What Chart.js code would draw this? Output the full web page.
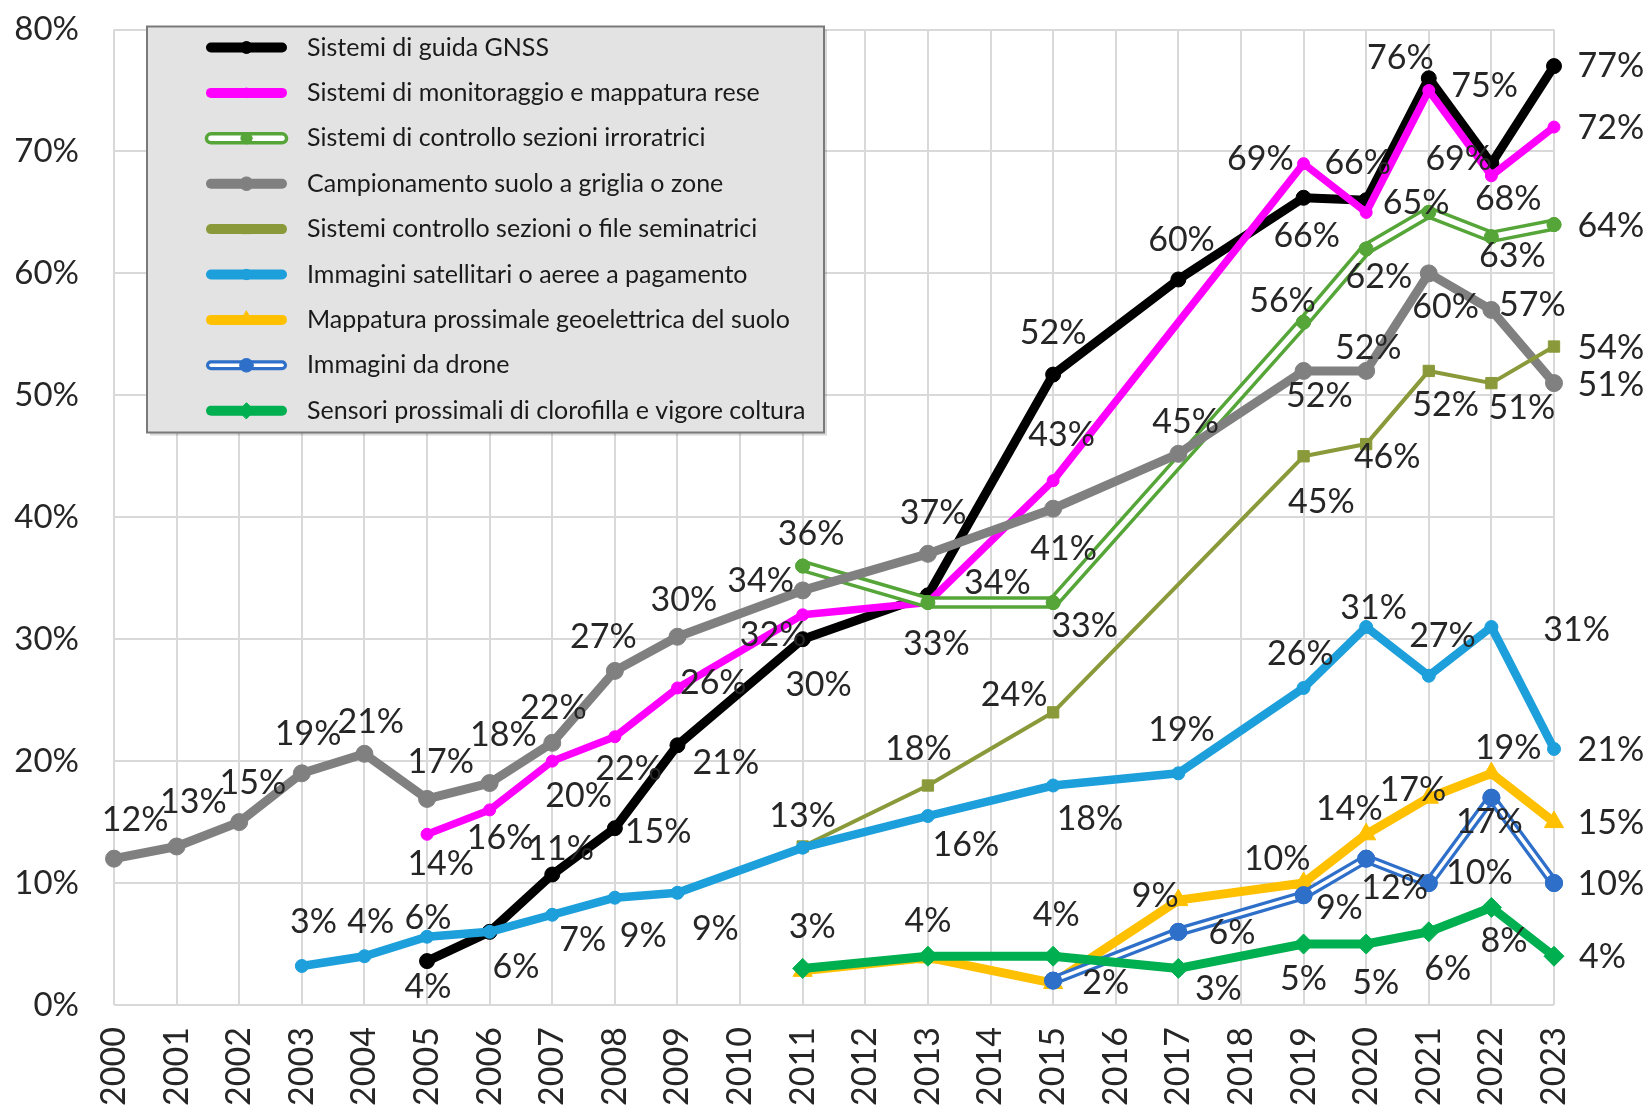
<!DOCTYPE html>
<html>
<head>
<meta charset="utf-8">
<script src="https://cdn.jsdelivr.net/npm/chart.js@4.4.1/dist/chart.umd.min.js"></script>
<style>
  html, body { margin: 0; padding: 0; background: #fff; }
  canvas { display: block; }
</style>
</head>
<body>
<canvas id="chart" width="1651" height="1105"></canvas>
<script>
const years = ['2000', '2001', '2002', '2003', '2004', '2005', '2006', '2007', '2008', '2009', '2010', '2011',
               '2012', '2013', '2014', '2015', '2016', '2017', '2018', '2019', '2020', '2021', '2022', '2023'];

const gnss          = [null, null, null, null, null, 3.6, 6, 10.7, 14.5, 21.3, null, 30, null, 33.6, null, 51.7, null, 59.5, null, 66.2, 66, 76, 69, 77];
const resa          = [null, null, null, null, null, 14, 16, 20, 22, 26, null, 32, null, 33, null, 43, null, null, null, 69, 65, 75, 68, 72];
const irroratrici   = [null, null, null, null, null, null, null, null, null, null, null, 36, null, 33, null, 33, null, null, null, 56, 62, 65, 63, 64];
const campionamento = [12, 13, 15, 19, 20.6, 16.9, 18.2, 21.5, 27.4, 30.2, null, 34, null, 37, null, 40.7, null, 45.2, null, 52, 52, 60, 57, 51];
const seminatrici   = [null, null, null, null, null, null, null, null, null, null, null, 13, null, 18, null, 24, null, null, null, 45, 46, 52, 51, 54];
const satellitari   = [null, null, null, 3.2, 4, 5.6, 6, 7.4, 8.8, 9.2, null, 12.9, null, 15.5, null, 18, null, 19, null, 26, 31, 27, 31, 21];
const geoelettrica  = [null, null, null, null, null, null, null, null, null, null, null, 2.8, null, 3.9, null, 1.8, null, 8.6, null, 10, 14, 17, 19, 15];
const drone         = [null, null, null, null, null, null, null, null, null, null, null, null, null, null, null, 2, null, 6, null, 9, 12, 10, 17, 10];
const sensori       = [null, null, null, null, null, null, null, null, null, null, null, 3, null, 4, null, 4, null, 3, null, 5, 5, 6, 8, 4];

const seriesNames = [
    'Sistemi di guida GNSS',
    'Sistemi di monitoraggio e mappatura rese',
    'Sistemi di controllo sezioni irroratrici',
    'Campionamento suolo a griglia o zone',
    'Sistemi controllo sezioni o file seminatrici',
    'Immagini satellitari o aeree a pagamento',
    'Mappatura prossimale geoelettrica del suolo',
    'Immagini da drone',
    'Sensori prossimali di clorofilla e vigore coltura'
];

// where each value label sits relative to its point (label placement only)
const labelPos = [
    {2005: [1, 25], 2006: [25, 33], 2007: [8, -24], 2008: [41, 4], 2009: [46, 17], 2011: [15, 44], 2013: [66, -12],
     2015: [0, -39], 2017: [3, -37], 2019: [3, 36], 2020: [-8, -35], 2021: [-27, -19], 2022: [-31, -4], 2023: [54, 0]},
    {2005: [13, 28], 2006: [10, 27], 2007: [25, 33], 2008: [13, 31], 2009: [34, -5], 2011: [-28, 19], 2015: [8, -43],
     2019: [-41, -4], 2021: [53, -4], 2022: [16, 22], 2023: [54, 1]},
    {2011: [8, -30], 2013: [8, 39], 2015: [30, 22], 2019: [-20, -20], 2020: [12, 27], 2021: [-12, -9], 2022: [20, 18], 2023: [54, 1]},
    {2000: [20, -37], 2001: [16, -42], 2002: [13, -37], 2003: [6, -37], 2004: [6, -30], 2005: [13, -35], 2006: [13, -46],
     2007: [1, -33], 2008: [-11, -32], 2009: [6, -35], 2011: [-40, -9], 2013: [5, -39], 2015: [10, 38], 2017: [7, -30],
     2019: [15, 24], 2020: [2, -22], 2021: [16, 32], 2022: [39, -5], 2023: [54, 2]},
    {2013: [-9, -35], 2015: [-37, -16], 2019: [17, 43], 2020: [20, 12], 2021: [16, 32], 2022: [29, 24], 2023: [54, 1]},
    {2003: [11, -42], 2004: [6, -32], 2005: [1, -18], 2007: [29, 24], 2008: [27, 36], 2009: [36, 34], 2011: [0, -30],
     2013: [36, 28], 2015: [35, 32], 2017: [3, -41], 2019: [-3, -32], 2020: [7, -18], 2021: [13, -38], 2022: [81, 3], 2023: [54, 1]},
    {2015: [50, 0], 2017: [-22, -4], 2019: [-25, -23], 2020: [-16, -24], 2021: [-15, -7], 2022: [16, -24], 2023: [54, 1]},
    {2017: [51, 1], 2019: [34, 12], 2020: [27, 28], 2021: [48, -10], 2022: [-2, 23], 2023: [54, 1]},
    {2011: [9, -39], 2013: [0, -33], 2015: [3, -39], 2017: [38, 20], 2019: [0, 33], 2020: [9, 37], 2021: [18, 35], 2022: [12, 32], 2023: [46, 1]}
];

const FONT = 'Lato, "Open Sans", sans-serif';
const TEXT = '#262626';

function series(i, data, color, width, style, radius, extra) {
    return Object.assign({
        label: seriesNames[i],
        data: data,
        borderColor: color,
        backgroundColor: color,
        pointBackgroundColor: color,
        pointBorderColor: color,
        borderWidth: width,
        pointStyle: style,
        pointRadius: radius,
        pointBorderWidth: 1,
        borderJoinStyle: 'round',
        borderCapStyle: 'round',
        spanGaps: true,
        tension: 0,
        clip: false,
        order: 20 - i,
        labelPos: labelPos[i]
    }, extra || {});
}

const datasets = [
    series(0, gnss, '#000000', 9, 'circle', 7.5),
    series(1, resa, '#ff00ff', 7.5, 'circle', 6),
    series(2, irroratrici, '#55a538', 12.5, 'circle', 7, {innerColor: '#ffffff', innerWidth: 5.5, borderJoinStyle: 'miter'}),
    series(3, campionamento, '#808080', 9, 'circle', 8.5),
    series(4, seminatrici, '#8a9a3a', 4, 'rect', 8),
    series(5, satellitari, '#1c9fda', 8.5, 'circle', 6.5),
    series(6, geoelettrica, '#ffc000', 9, 'triangle', 11),
    series(7, drone, '#2e6fc9', 10, 'circle', 8.5, {innerColor: '#ffffff', innerWidth: 3.5, borderJoinStyle: 'miter'}),
    series(8, sensori, '#00b050', 9, 'rectRot', 10)
];

// white core for the double-stroke series
const doubleLine = {
    id: 'doubleLine',
    afterDatasetDraw(chart, args) {
        const ds = chart.data.datasets[args.index];
        if (!ds.innerColor) return;
        const ctx = chart.ctx;
        const pts = args.meta.data.filter(p => !p.skip);
        ctx.save();
        ctx.beginPath();
        pts.forEach((p, i) => i ? ctx.lineTo(p.x, p.y) : ctx.moveTo(p.x, p.y));
        ctx.strokeStyle = ds.innerColor;
        ctx.lineWidth = ds.innerWidth;
        ctx.lineJoin = 'miter';
        ctx.stroke();
        pts.forEach(p => p.draw(ctx, chart.chartArea));
        ctx.restore();
    }
};

const valueLabels = {
    id: 'valueLabels',
    afterDatasetsDraw(chart) {
        const ctx = chart.ctx;
        ctx.save();
        ctx.font = '34px ' + FONT;
        ctx.fillStyle = TEXT;
        ctx.textAlign = 'center';
        ctx.textBaseline = 'middle';
        chart.data.datasets.forEach((ds, di) => {
            const meta = chart.getDatasetMeta(di);
            ds.data.forEach((v, i) => {
                const off = ds.labelPos[years[i]];
                if (v === null || !off) return;
                const p = meta.data[i];
                ctx.fillText(Math.round(v) + '%', p.x + off[0] * 1.053, p.y + off[1] * 1.053);
            });
        });
        ctx.restore();
    }
};

const legendBox = {
    id: 'legendBox',
    afterDraw(chart) {
        const ctx = chart.ctx;
        const a = chart.chartArea;
        const x = a.left + 33, y = a.top - 3, w = 677, h = 406;
        ctx.save();
        ctx.fillStyle = 'rgba(0,0,0,0.15)';
        ctx.fillRect(x + 3, y + 3, w, h);
        ctx.fillStyle = '#e3e3e3';
        ctx.fillRect(x, y, w, h);
        ctx.strokeStyle = '#7a7a7a';
        ctx.lineWidth = 2;
        ctx.strokeRect(x, y, w, h);
        ctx.font = '25px ' + FONT;
        ctx.textBaseline = 'middle';
        chart.data.datasets.forEach((ds, i) => {
            const cy = y + 21 + i * 45.4;
            const x0 = x + 64, x1 = x + 135, cx = (x0 + x1) / 2;
            ctx.lineCap = 'round';
            ctx.beginPath();
            ctx.moveTo(x0, cy);
            ctx.lineTo(x1, cy);
            ctx.strokeStyle = ds.borderColor;
            ctx.lineWidth = Math.max(ds.borderWidth, 10);
            ctx.stroke();
            if (ds.innerColor) {
                ctx.beginPath();
                ctx.moveTo(x0, cy);
                ctx.lineTo(x1, cy);
                ctx.strokeStyle = ds.innerColor;
                ctx.lineWidth = ds.innerWidth;
                ctx.stroke();
            }
            ctx.fillStyle = ds.pointBackgroundColor;
            ctx.strokeStyle = ds.pointBorderColor;
            ctx.lineWidth = 1;
            Chart.helpers.drawPoint(ctx, {pointStyle: ds.pointStyle, radius: ds.pointRadius * 0.8, rotation: 0, borderWidth: 1}, cx, cy);
            ctx.fillStyle = '#1a1a1a';
            ctx.fillText(ds.label, x + 160, cy);
        });
        ctx.restore();
    }
};

const ctx = document.getElementById('chart').getContext('2d');
new Chart(ctx, {
    type: 'line',
    data: { labels: years, datasets: datasets },
    options: {
        responsive: false,
        animation: false,
        layout: { padding: { top: 29.5, right: 97, left: 0, bottom: 0 } },
        plugins: {
            legend: { display: false },
            tooltip: { enabled: false }
        },
        scales: {
            x: {
                grid: { color: '#d9d9d9', lineWidth: 2, drawTicks: false },
                border: { display: false },
                ticks: { minRotation: 90, maxRotation: 90, autoSkip: false, padding: 22, color: TEXT, font: { family: FONT, size: 34 } },
                afterFit: s => { s.height = 100; }
            },
            y: {
                min: 0,
                max: 80,
                // transparent tick marks make the gap between labels and plot
                grid: { color: '#d9d9d9', lineWidth: 2, drawTicks: true, tickLength: 35, tickColor: 'rgba(0,0,0,0)' },
                border: { display: false },
                ticks: { stepSize: 10, padding: 0, color: TEXT, font: { family: FONT, size: 33 }, callback: v => v + '%' },
                afterFit: s => { s.width = 114; }
            }
        }
    },
    plugins: [doubleLine, valueLabels, legendBox]
});
</script>
</body>
</html>
